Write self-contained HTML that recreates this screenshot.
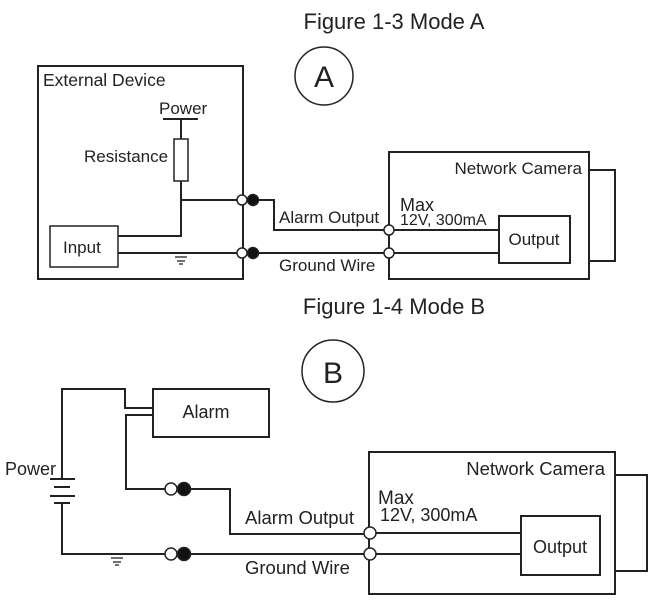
<!DOCTYPE html>
<html><head><meta charset="utf-8"><style>
html,body{margin:0;padding:0;background:#fff;}
svg{display:block;}
text{font-family:"Liberation Sans",sans-serif;fill:#222;}
</style></head><body>
<svg width="655" height="603" viewBox="0 0 655 603" xmlns="http://www.w3.org/2000/svg">
<g fill="none" stroke="#222" stroke-width="2">
<rect x="38" y="66" width="205" height="213"/>
<circle cx="324" cy="76" r="29" stroke-width="1.5"/>
<line x1="163" y1="119" x2="198" y2="119"/>
<line x1="181" y1="119" x2="181" y2="139"/>
<rect x="174" y="139" width="14" height="42" stroke-width="1.5"/>
<polyline points="181,181 181,236 118,236"/>
<line x1="181" y1="200" x2="237" y2="200"/>
<rect x="50" y="226" width="68" height="41" stroke-width="1.5"/>
<line x1="118" y1="253" x2="237" y2="253"/>
<line x1="175" y1="257" x2="187" y2="257" stroke-width="1.3"/>
<line x1="177" y1="261" x2="185" y2="261" stroke-width="1.3"/>
<line x1="179" y1="264" x2="183" y2="264" stroke-width="1.3"/>
<polyline points="258,200 274,200 274,230 384,230"/>
<line x1="258" y1="253" x2="384" y2="253"/>
<rect x="389" y="152" width="200" height="127"/>
<polyline points="589,170 615,170 615,261 589,261"/>
<rect x="499" y="216" width="71" height="47"/>
<line x1="394" y1="230" x2="499" y2="230"/>
<line x1="394" y1="253" x2="499" y2="253"/>
<circle cx="333" cy="371" r="31" stroke-width="1.5"/>
<rect x="153" y="389" width="116" height="48"/>
<polyline points="62,479 62,389 125,389 125,408 153,408"/>
<polyline points="153,415 126,415 126,489 165,489"/>
<line x1="50" y1="479" x2="75" y2="479"/>
<line x1="54" y1="487" x2="70" y2="487"/>
<line x1="50" y1="496" x2="75" y2="496"/>
<line x1="54" y1="503" x2="70" y2="503"/>
<polyline points="62,503 62,554 165,554"/>
<line x1="111" y1="558" x2="123" y2="558" stroke-width="1.3"/>
<line x1="113" y1="562" x2="121" y2="562" stroke-width="1.3"/>
<line x1="115" y1="565" x2="119" y2="565" stroke-width="1.3"/>
<polyline points="189,489 230,489 230,534 365,534"/>
<line x1="189" y1="554" x2="365" y2="554"/>
<rect x="369" y="452" width="246" height="142"/>
<polyline points="615,475 647,475 647,571 615,571"/>
<rect x="521" y="516" width="79" height="59"/>
<line x1="375" y1="533" x2="521" y2="533"/>
<line x1="375" y1="554" x2="521" y2="554"/>
</g>
<g stroke="#222" stroke-width="1.5">
<circle cx="242" cy="200" r="5" fill="#fff"/><circle cx="253" cy="200" r="5.5" fill="#111"/>
<circle cx="242" cy="253" r="5" fill="#fff"/><circle cx="253" cy="253" r="5.5" fill="#111"/>
<circle cx="389" cy="230" r="5" fill="#fff"/><circle cx="389" cy="253" r="5" fill="#fff"/>
<circle cx="171" cy="489" r="6" fill="#fff"/><circle cx="184" cy="489" r="6.5" fill="#111"/>
<circle cx="171" cy="554" r="6" fill="#fff"/><circle cx="184" cy="554" r="6.5" fill="#111"/>
<circle cx="370" cy="533" r="6" fill="#fff"/><circle cx="370" cy="554" r="6" fill="#fff"/>
</g>
<text x="394" y="29" font-size="22" text-anchor="middle">Figure 1-3 Mode A</text>
<text x="324" y="87" font-size="30" text-anchor="middle">A</text>
<text x="43" y="86" font-size="17.5">External Device</text>
<text x="159" y="114" font-size="17">Power</text>
<text x="84" y="162" font-size="17">Resistance</text>
<text x="63" y="253" font-size="17">Input</text>
<text x="279" y="223" font-size="17">Alarm Output</text>
<text x="279" y="271" font-size="17">Ground Wire</text>
<text x="582" y="174" font-size="17" text-anchor="end">Network Camera</text>
<text x="400" y="211" font-size="18">Max</text>
<text x="400" y="225" font-size="16">12V, 300mA</text>
<text x="534" y="245" font-size="17" text-anchor="middle">Output</text>
<text x="394" y="314" font-size="22" text-anchor="middle">Figure 1-4 Mode B</text>
<text x="333" y="383" font-size="30" text-anchor="middle">B</text>
<text x="206" y="418" font-size="18" text-anchor="middle">Alarm</text>
<text x="5" y="475" font-size="18">Power</text>
<text x="245" y="524" font-size="18.5">Alarm Output</text>
<text x="245" y="574" font-size="18.5">Ground Wire</text>
<text x="605" y="475" font-size="18.5" text-anchor="end">Network Camera</text>
<text x="378" y="504" font-size="19">Max</text>
<text x="380" y="521" font-size="18">12V, 300mA</text>
<text x="560" y="553" font-size="18" text-anchor="middle">Output</text>
</svg>
</body></html>
